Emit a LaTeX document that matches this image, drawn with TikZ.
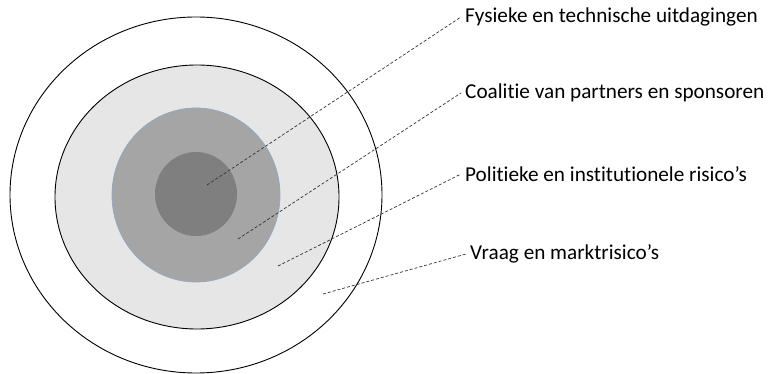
\documentclass[tikz,border=0pt]{standalone}
\usepackage{fontspec}
\setmainfont[Ligatures=NoCommon]{Carlito}
\definecolor{ringlight}{HTML}{E7E6E6}
\definecolor{ringmid}{HTML}{A5A5A5}
\definecolor{ringdark}{HTML}{7F7F7F}
\definecolor{ringedge}{HTML}{8EA9C8}
\tikzset{
  lbl/.style={anchor=west, inner sep=4pt, font=\fontsize{21.2}{25}\selectfont},
  pointer/.style={black!80, line width=0.7pt, dash pattern=on 3pt off 2pt}
}
\begin{document}
\begin{tikzpicture}[x=1pt,y=-1pt]
	\useasboundingbox (0,0) rectangle (780,374);

	% Dibujar los anillos
	\draw[black, line width=0.9pt, fill=white] (196,195) ellipse (186 and 178);
	\draw[black, line width=0.9pt, fill=ringlight] (197,197) ellipse (142 and 132);
	\draw[ringedge, line width=0.7pt, fill=ringmid] (196,195) ellipse (84 and 87);
	\fill[ringdark] (196,194) ellipse (41 and 42);

	% Puntos de las flechas
	\coordinate (pFysiek) at (207,185);
	\coordinate (pCoalitie) at (238,239);
	\coordinate (pPolitiek) at (278,266);
	\coordinate (pVraag) at (323,294);

	% Etiquetar los anillos
	\node[lbl] (fysiek) at (461,17) {Fysieke en technische uitdagingen};
	\node[lbl] (coalitie) at (461,93) {Coalitie van partners en sponsoren};
	\node[lbl] (politiek) at (461,174) {Politieke en institutionele risico’s};
	\node[lbl] (vraag) at (466,254) {Vraag en marktrisico’s};

	% Dibujar las lineas
	\foreach \p/\t in {pFysiek/fysiek, pCoalitie/coalitie, pPolitiek/politiek, pVraag/vraag} {
	    \draw[pointer] (\p) -- (\t.west);
	}
\end{tikzpicture}
\end{document}
